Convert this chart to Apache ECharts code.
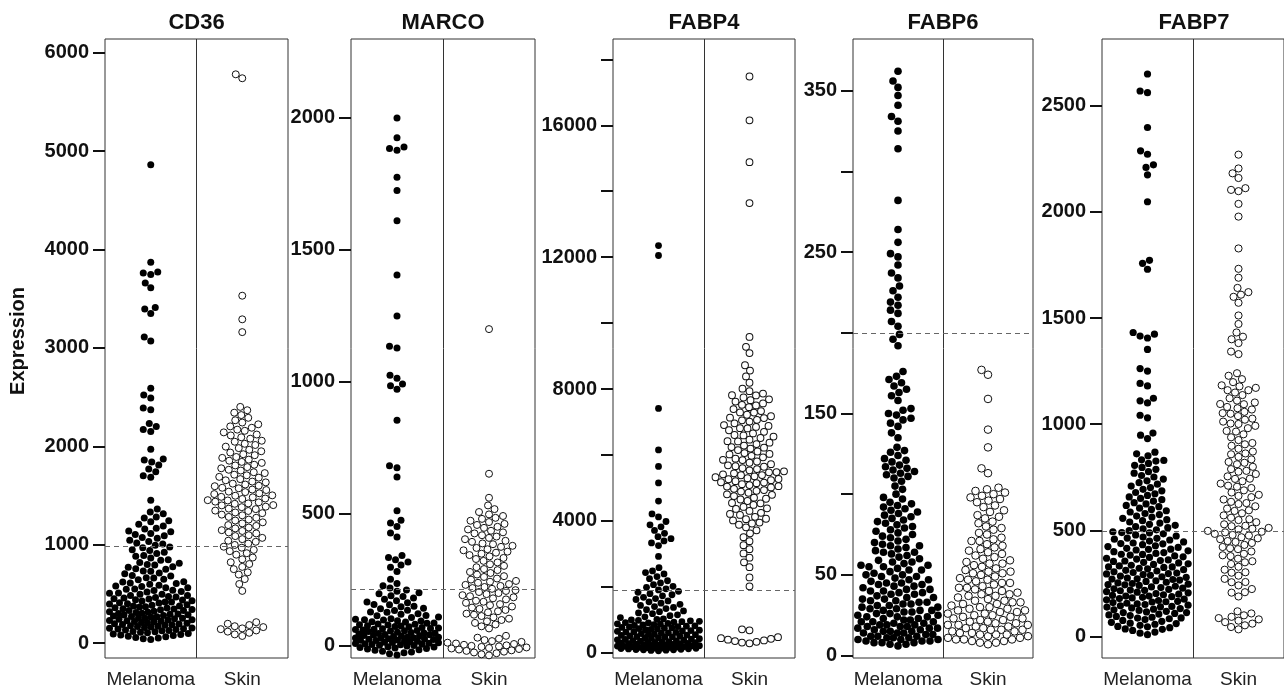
<!DOCTYPE html>
<html>
<head>
<meta charset="utf-8">
<script src="https://cdn.jsdelivr.net/npm/echarts@6/dist/echarts.min.js"></script>
<style>
html,body{margin:0;padding:0;background:#fff;}
#chart{width:1284px;height:690px;}
</style>
</head>
<body>
<div id="chart"></div>
<script>
// ---------------- DATA ----------------
const genes = ['CD36', 'MARCO', 'FABP4', 'FABP6', 'FABP7'];
const groups = ['Melanoma', 'Skin'];
const yAxisTitle = 'Expression';

const cd36Melanoma = [4860, 3870, 3770, 3760, 3745, 3660, 3610, 3410, 3395, 3350, 3110, 3070, 2590, 2520, 2490, 2390, 2370, 2230, 2200, 2170, 2150, 1970, 1870, 1860, 1840, 1810, 1770, 1740, 1700, 1685, 1450,
  1362, 1331, 1314, 1282, 1271, 1243, 1232, 1207, 1189, 1166, 1158, 1139, 1131, 1114, 1102, 1091, 1073, 1066, 1044, 1033, 1017, 1006,
  994, 975, 968, 949, 941, 922, 911, 890, 882, 864, 847, 841, 818, 812, 798, 794, 776, 771, 754, 751, 733, 729, 712, 705, 686, 681, 664, 660, 648, 642, 624, 621, 609, 604,
  597, 588, 579, 574, 563, 561, 548, 546, 536, 534, 524, 519, 509, 507, 497, 495, 484, 483, 474, 469, 463, 458, 451, 448, 439, 438, 429, 427, 418, 416, 409, 406, 399, 397, 388, 385, 377, 376, 369, 366, 359, 357, 349, 347, 341, 338, 331, 330, 322, 318, 313, 311, 304, 301, 296, 293, 287, 284, 279, 275, 270, 268, 261, 258, 253, 251, 246, 242, 237, 234, 229, 227, 221, 218, 213, 210, 205, 202, 196, 194, 188, 185, 180, 176, 171, 168, 163, 159, 154, 151, 146, 142, 137, 133, 128, 124, 118, 115, 109, 104, 98, 93, 87, 82, 76, 70, 64, 57, 51, 44, 37];
const cd36Skin = [5780, 5740, 3530, 3290, 3160,
  2400, 2366, 2341, 2317, 2289, 2264, 2241, 2223, 2202, 2188, 2169, 2157, 2141, 2119, 2110, 2091, 2077, 2056, 2046, 2025, 2013,
  1996, 1981, 1964, 1949, 1936, 1919, 1909, 1891, 1882, 1864, 1853, 1841, 1831, 1812, 1805, 1788, 1776, 1761, 1753, 1736, 1727, 1711, 1705, 1689, 1681, 1666, 1654, 1641, 1633, 1620, 1611, 1599, 1594, 1578, 1573, 1560, 1555, 1539, 1534, 1522, 1514, 1501,
  1497, 1486, 1481, 1469, 1464, 1452, 1449, 1437, 1430, 1419, 1415, 1402, 1399, 1386, 1381, 1366, 1361, 1346, 1342, 1327, 1320, 1305, 1298, 1282, 1273, 1255, 1245, 1227, 1216, 1199, 1190, 1174, 1165, 1147, 1139, 1124, 1114, 1096, 1087, 1069, 1056, 1040, 1029, 1011,
  997, 979, 969, 947, 934, 913, 898, 869, 851, 821, 803, 774, 751, 719, 696, 650, 600, 530,
  212, 196, 183, 171, 162, 149, 141, 128, 116, 104, 88, 72];

const marcoMelanoma = [2000, 1925, 1890, 1884, 1878, 1775, 1725, 1610, 1405, 1250, 1135, 1128, 1025, 1014, 992, 985, 972, 855, 682, 675, 640, 512, 476, 465, 452, 428, 412, 342, 335, 326, 318, 306, 298, 282, 252, 236, 228, 219,
  212, 207, 201, 197, 190, 187, 181, 177, 171, 166, 163, 157, 156, 150, 148, 142, 141, 135, 134, 128, 127, 122, 120, 115, 114, 109, 107, 103, 101,
  99, 98, 95, 94, 91, 90, 87, 86, 83, 82, 80, 79, 76, 75, 73, 72, 70, 68, 66, 65, 63, 62, 60, 58, 57, 56, 54, 52, 51, 49, 48, 47, 45, 43, 42, 41, 39, 38, 36, 35, 34, 33, 31, 30, 29, 27, 26, 25, 24, 22, 21, 20, 18, 17, 16, 14, 13, 12, 10, 9, 8, 6, 5, 4, 2, 1, -1, -3, -4, -6, -8, -10, -12, -15, -17, -20, -23, -26, -30, -35];
const marcoSkin = [1200, 652, 561, 532, 518, 507, 498, 492, 485, 481, 474, 469, 462, 458, 451, 447, 441, 436, 430, 426, 419, 414, 409, 404, 398, 394, 388, 385, 379, 375, 371, 366, 362, 357, 353, 349, 344, 339, 333, 329, 322, 316, 309, 303, 298, 291, 287, 280, 276, 270, 264, 261, 255, 251, 246, 243, 239, 234, 231, 227, 223, 219, 216, 211, 208, 204, 200, 196, 192, 188, 184, 180, 176, 171, 167, 163, 158, 154, 149, 145, 140, 136, 131, 127, 122, 118, 113, 108, 103, 98, 93, 87, 81, 74, 66,
  38, 31, 27, 22, 18, 15, 12, 9, 7, 4, 2, 0, -2, -4, -6, -8, -10, -12, -14, -17, -19, -22, -25, -28, -32, -36];

const fabp4Melanoma = [12350, 12050, 7410, 6150, 5650, 5150, 4600, 4210, 4120, 3980, 3880, 3820, 3710, 3620, 3520, 3460, 3390, 3330, 3250, 2920, 2580, 2480, 2430, 2390, 2310, 2245, 2182, 2117, 2064, 2012, 1983, 1937, 1905, 1862, 1833, 1791, 1758, 1724, 1681, 1642, 1613, 1571, 1542, 1503, 1468, 1434, 1398, 1372, 1338, 1304, 1268, 1243, 1206, 1183, 1148, 1122, 1087, 1064, 1028, 1012,
  995, 982, 968, 951, 940, 928, 915, 902, 889, 877, 864, 853, 840, 828, 815, 804, 792, 779, 768, 756, 744, 731, 720, 708, 697, 684, 672, 661, 649, 638, 626, 615, 603, 592, 580, 569, 558, 546, 535, 524, 512, 501, 490, 479, 468, 456, 445, 434, 423, 412, 401, 391, 380, 369, 358, 348, 337, 326, 316, 305, 295, 284, 274, 263, 253, 243, 232, 222, 212, 202, 192, 182, 172, 163, 153, 143, 134, 124, 115, 105, 96, 87, 77, 68, 59,
  310, 260, 240, 210, 185, 160, 140, 120, 90];
const fabp4Skin = [17480, 16150, 14880, 13640, 9580, 9280, 9090, 8720, 8560, 8380, 8190, 8010, 7934, 7862, 7805, 7742, 7686, 7618, 7561, 7503, 7447, 7392, 7331, 7284, 7218, 7173, 7118, 7064, 7012, 6957, 6905, 6848, 6803, 6749, 6702, 6651, 6604, 6558, 6513, 6462, 6418, 6371, 6329, 6283, 6238, 6192, 6148, 6103, 6057, 6014, 5972, 5928, 5887, 5843, 5801, 5762, 5718, 5683, 5641, 5602, 5571, 5534, 5502, 5473, 5441, 5412, 5383, 5351, 5322, 5293, 5262, 5234, 5203, 5171, 5143, 5112, 5084, 5051, 5013, 4972, 4934, 4887, 4852, 4803, 4751, 4703, 4648, 4602, 4541, 4483, 4422, 4361, 4302, 4243, 4181, 4122, 4063, 4012, 3948, 3881, 3802, 3713, 3621, 3504, 3382, 3263, 3141, 3012, 2883, 2742, 2594, 2283, 2014,
  7810, 7660, 7520, 7290, 7130, 7050, 6880, 6810, 6590, 6410, 6220, 6030, 5850, 5660, 5480, 5390, 5270, 5160, 5040, 4910, 4790, 4670, 4530, 4380, 4210, 4050, 3920,
  710, 680, 470, 440, 420, 395, 372, 351, 330, 306, 284];

const fabp6Melanoma = [362, 356, 352, 347, 341, 334, 331, 325, 314, 282, 264, 256, 249, 247, 242, 237, 234, 229, 226, 222, 219, 217, 214, 212, 207, 204, 199, 196, 192,
  176, 173, 171, 169, 167, 165, 163, 161, 158, 153, 152, 150, 149, 147, 146, 144, 142, 138, 135,
  129, 127, 126, 124, 122, 121, 120, 118, 117, 116, 115, 114, 113, 112, 111, 110, 108, 105, 103, 100,
  97, 95, 94, 92, 90, 89, 88, 86, 85, 83, 82, 80, 79, 78, 76, 75, 74, 73, 71, 70, 69, 68, 67, 66, 65, 64, 63, 62, 61, 60,
  59, 58, 57, 56, 55, 55, 54, 53, 52, 51, 50, 50, 49, 48, 47, 46, 45, 45, 44, 43, 42, 41, 40, 40, 39, 38, 37, 36, 35, 35, 34, 33, 32, 32, 31, 30, 30, 29, 28, 28, 27, 26, 26, 25, 24, 24, 23, 22, 22, 21, 21, 20, 19, 19, 18, 18, 17, 17, 16, 16, 15, 15, 14, 14, 13, 13, 12, 12, 11, 11, 10, 10, 9, 9, 8, 8, 7, 7,
  98, 93, 91, 87, 84, 81, 77, 72, 68, 64, 58, 56, 53, 49, 47, 44, 41, 38, 36, 33, 31, 29, 27, 25, 23, 21, 20, 18, 17, 15, 14, 12, 11, 10, 9, 8, 6, 19, 24, 28, 34, 39, 43];
const fabp6Skin = [177, 174, 159, 140, 129, 116, 113, 104, 103, 102, 101, 100, 99, 98, 97, 96, 95, 93, 92, 90, 89, 87, 86, 85, 83, 82, 80, 79, 78, 76, 75, 73, 72, 71, 69, 68, 67, 66, 64, 63, 62, 61, 60, 59, 58, 57, 56, 55, 54, 53, 52, 51, 51, 50, 49, 48, 47, 46, 45, 45, 44, 43, 42, 41, 40, 40, 39, 38, 37, 37, 36, 35, 34, 34, 33, 32, 32, 31, 30, 30, 29, 28, 28, 27, 27, 26, 25, 25, 24, 24, 23, 22, 22, 21, 21, 20, 20, 19, 19, 18, 18, 17, 17, 16, 16, 15, 15, 14, 14, 13, 13, 12, 12, 11, 11, 10, 10, 9, 9, 8, 7,
  71, 65, 57, 52, 47, 42, 38, 33, 29, 26, 23, 19, 16, 13, 10, 8];

const fabp7Melanoma = [2650, 2570, 2562, 2398, 2288, 2272, 2222, 2210, 2175, 2048, 1772, 1758, 1730, 1432, 1424, 1415, 1406, 1352, 1262, 1250, 1192, 1180, 1122, 1110, 1100, 1042, 1030, 958, 948, 932, 868, 860, 851, 832, 829, 826,
  815, 806, 796, 787, 776, 769, 758, 751, 741, 733, 724, 717, 708, 701, 693, 686, 678, 672, 664, 657, 650, 644, 637, 630, 624, 617, 611, 604, 598, 592, 586, 579, 574, 567, 562, 556, 550, 545, 539, 534, 528, 523, 517, 512, 507, 502,
  498, 493, 488, 483, 478, 473, 468, 463, 458, 454, 449, 445, 440, 436, 432, 427, 423, 419, 415, 411, 407, 403, 399, 395, 391, 387, 383, 379, 375, 372, 368, 364, 360, 357, 353, 349, 346, 342, 339, 335, 332, 328, 325, 321, 318, 314, 311, 308, 304, 301, 298, 294, 291, 288, 284, 281, 278, 275, 271, 268, 265, 262, 259, 255, 252, 249, 246, 243, 240, 236, 233, 230, 227, 224, 221, 218, 215, 211, 208, 205, 202, 199, 196, 193, 190, 187, 184, 181, 178, 175, 172, 169, 165, 162, 159, 156, 153, 150, 147, 144, 141, 138, 134, 131, 128, 125, 122, 118, 115, 112, 108, 105, 101, 98, 94, 90, 87, 83, 79, 75, 71, 66, 62, 57, 52, 47, 41, 35, 28, 20, 8,
  489, 462, 437, 410, 386, 355, 327, 296, 270, 244, 217, 190, 163, 139, 112, 86, 60, 33, 15, 45];
const fabp7Skin = [2270, 2205, 2182, 2160, 2112, 2104, 2098, 2038, 1978, 1828, 1732, 1690, 1642, 1622, 1610, 1600, 1572, 1512, 1472, 1432, 1412, 1400, 1382, 1342, 1330,
  1240, 1228, 1212, 1198, 1183, 1171, 1160, 1149, 1137, 1122, 1111, 1102, 1094, 1081, 1069, 1058, 1049, 1038, 1026, 1012, 1003, 992, 981,
  968, 952, 938, 925, 911, 898, 884, 871, 858, 846, 834, 822, 811, 799, 788, 776, 765, 754, 743, 731, 720, 710, 699, 688, 678, 667, 656, 645, 634, 624, 613, 602, 591, 580, 570, 559, 548, 538, 528, 519, 511, 504, 497, 490, 483, 475, 467, 458, 449, 440, 431, 421, 411, 400, 389, 378, 366, 354, 341, 328, 314, 300, 286, 271, 256, 240, 223, 206, 188,
  1178, 1160, 1095, 1075, 1052, 1021, 1001, 965, 905, 862, 818, 780, 742, 705, 662, 628, 594, 552, 521, 507, 493, 478, 462, 445, 415, 382, 349, 302, 255, 208,
  118, 108, 99, 92, 86, 80, 74, 67, 60, 52, 44, 33];

const thresholds = [980, 215, 1880, 200, 495];

const cd36Ticks = [0, 1000, 2000, 3000, 4000, 5000, 6000];
const cd36Labels = [0, 1000, 2000, 3000, 4000, 5000, 6000];
const marcoTicks = [0, 500, 1000, 1500, 2000];
const marcoLabels = [0, 500, 1000, 1500, 2000];
const fabp4Ticks = [0, 2000, 4000, 6000, 8000, 10000, 12000, 14000, 16000, 18000];
const fabp4Labels = [0, 4000, 8000, 12000, 16000];
const fabp6Ticks = [0, 50, 100, 150, 200, 250, 300, 350];
const fabp6Labels = [0, 50, 150, 250, 350];
const fabp7Ticks = [0, 500, 1000, 1500, 2000, 2500];
const fabp7Labels = [0, 500, 1000, 1500, 2000, 2500];

// ---------------- LAYOUT ----------------
const FONT = "'Liberation Sans', Arial, Helvetica, sans-serif";
const GRID_TOP = 39, GRID_H = 619;
const panels = [
  { left: 105, width: 183, min: -152, max: 6139, mel: cd36Melanoma, skin: cd36Skin, ticks: cd36Ticks, labels: cd36Labels, size: 7 },
  { left: 351, width: 184, min: -46, max: 2299, mel: marcoMelanoma, skin: marcoSkin, ticks: marcoTicks, labels: marcoLabels, size: 7 },
  { left: 613, width: 182, min: -161, max: 18618, mel: fabp4Melanoma, skin: fabp4Skin, ticks: fabp4Ticks, labels: fabp4Labels, size: 6.8 },
  { left: 853, width: 180, min: -1.5, max: 382, mel: fabp6Melanoma, skin: fabp6Skin, ticks: fabp6Ticks, labels: fabp6Labels, size: 7.6 },
  { left: 1102, width: 184, min: -102, max: 2815, mel: fabp7Melanoma, skin: fabp7Skin, ticks: fabp7Ticks, labels: fabp7Labels, size: 7.2 }
];

// beeswarm-style offsets (pixels) computed from values and the axis scale
function swarm(values, pxPerUnit, maxV, diam, limit) {
  const order = values.map((v, i) => i).sort((a, b) => values[a] - values[b]);
  const placed = [];
  const offs = new Array(values.length);
  const d2 = diam * diam;
  for (const i of order) {
    const y = (maxV - values[i]) * pxPerUnit;
    const near = placed.filter(p => Math.abs(p.y - y) < diam * 1.5);
    let found = null;
    for (let s = 0; s <= limit && found === null; s += 0.5) {
      const cands = s === 0 ? [0] : [-s, s];
      for (const x of cands) {
        let ok = true;
        for (const p of near) {
          const dx = p.x - x, dy = p.y - y;
          if (dx * dx + dy * dy < d2) { ok = false; break; }
        }
        if (ok) { found = x; break; }
      }
    }
    if (found === null) {
      let best = 0, bestScore = -1;
      for (let x = -limit; x <= limit; x += 0.5) {
        let md = Infinity;
        for (const p of near) {
          const dx = p.x - x, dy = p.y - y;
          const dd = dx * dx + dy * dy;
          if (dd < md) md = dd;
        }
        if (md > bestScore) { bestScore = md; best = x; }
      }
      found = best;
    }
    placed.push({ x: found, y: y });
    offs[i] = found;
  }
  return offs;
}

const grid = [], xAxis = [], yAxis = [], series = [], graphic = [];
panels.forEach((p, k) => {
  grid.push({ left: p.left, top: GRID_TOP, width: p.width, height: GRID_H, show: true, borderColor: '#333', borderWidth: 1, backgroundColor: 'transparent' });
  xAxis.push({
    gridIndex: k, type: 'value', min: 0, max: 2,
    axisLine: { show: false }, axisTick: { show: false }, splitLine: { show: false },
    axisLabel: { customValues: [0.5, 1.5], formatter: v => (v < 1 ? groups[0] : groups[1]), fontSize: 19, color: '#222', fontFamily: FONT, margin: 12 }
  });
  yAxis.push({
    gridIndex: k, type: 'value', min: p.min, max: p.max,
    axisLine: { show: false }, splitLine: { show: false },
    axisTick: { show: true, length: 12, customValues: p.ticks, lineStyle: { color: '#111', width: 2 } },
    axisLabel: { customValues: p.labels, formatter: v => String(Math.round(v)), fontSize: 20, fontWeight: 'bold', color: '#111', fontFamily: FONT, margin: 16 }
  });
  const pxPerUnit = GRID_H / (p.max - p.min);
  const unitPerPx = 2 / p.width;
  const limit = p.width / 4 - p.size / 2 - 1;
  [p.mel, p.skin].forEach((vals, g) => {
    const offs = swarm(vals, pxPerUnit, p.max, p.size * 1.05, limit);
    const data = vals.map((v, i) => [0.5 + g + offs[i] * unitPerPx, v]);
    const s = {
      type: 'scatter', xAxisIndex: k, yAxisIndex: k, data: data,
      symbol: 'circle', symbolSize: p.size, silent: true,
      itemStyle: g === 0 ? { color: '#000', borderWidth: 0, opacity: 1 } : { color: '#fff', borderColor: '#111', borderWidth: 1, opacity: 1 },
      z: 3
    };
    if (g === 0) {
      s.markLine = {
        silent: true, symbol: ['none', 'none'], label: { show: false }, animation: false,
        data: [
          { xAxis: 1, lineStyle: { type: 'solid', color: '#333', width: 1 } },
          { yAxis: thresholds[k], lineStyle: { type: [5, 4], color: '#666', width: 1.2 } }
        ]
      };
    }
    series.push(s);
  });
  graphic.push({
    type: 'text', x: p.left + p.width / 2, y: 23,
    style: { text: genes[k], fontSize: 22, fontWeight: 'bold', fill: '#111', fontFamily: FONT, textAlign: 'center', textVerticalAlign: 'middle' }
  });
});
graphic.push({
  type: 'text', x: 18, y: 341, rotation: Math.PI / 2,
  style: { text: yAxisTitle, fontSize: 20, fontWeight: 'bold', fill: '#111', fontFamily: FONT, textAlign: 'center', textVerticalAlign: 'middle' }
});

const chart = echarts.init(document.getElementById('chart'), null, { renderer: 'canvas' });
chart.setOption({ animation: false, backgroundColor: '#fff', grid, xAxis, yAxis, series, graphic });
</script>
</body>
</html>
